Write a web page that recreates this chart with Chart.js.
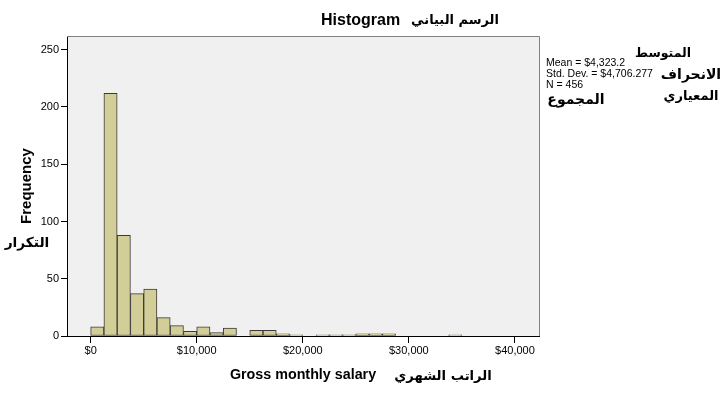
<!DOCTYPE html>
<html lang="en">
<head>
    <meta charset="UTF-8">
    <title>Histogram</title>
    <script src="https://cdn.jsdelivr.net/npm/chart.js"></script>
    <style>
        body { margin: 0; background: #fff; }
        #wrap { width: 720px; height: 396px; }
    </style>
</head>
<body>
    <div id="wrap">
        <canvas id="histChart" width="720" height="396"></canvas>
    </div>

    <script>
        // bin lower edges ($), bin width 1250
        var binStarts = [0, 1250, 2500, 3750, 5000, 6250, 7500, 8750, 10000, 11250, 12500, 13750,
                         15000, 16250, 17500, 18750, 20000, 21250, 22500, 23750, 25000, 26250,
                         27500, 28750, 30000, 31250, 32500, 33750];
        var binWidth = 1250;
        var counts = [8, 212, 88, 37, 41, 16, 9, 4, 8, 3, 7, 0,
                      5, 5, 2, 1, 0, 1, 1, 1, 2, 2,
                      2, 0, 0, 0, 0, 1];
        var xTicks = [0, 10000, 20000, 30000, 40000];
        var yTicks = [0, 50, 100, 150, 200, 250];
        var statsLines = ['Mean = $4,323.2', 'Std. Dev. = $4,706.277', 'N = 456'];

        var FONT = '"Liberation Sans", Arial, sans-serif';
        var AR_FONT = '"DejaVu Sans", sans-serif';

        // arabic captions: text, center x, center y, size
        var arabicLabels = [
            ['الرسم البياني', 455, 21, 13],
            ['المتوسط', 663, 54, 12.5],
            ['الانحراف', 691, 75, 14],
            ['المعياري', 691, 97, 13],
            ['المجموع', 576, 100, 14],
            ['التكرار', 27, 243, 13.75],
            ['الراتب الشهري', 443, 377, 13.2]
        ];

        var extras = {
            id: 'extras',
            beforeDraw: function(chart) {
                var ctx = chart.ctx, a = chart.chartArea;
                ctx.save();
                ctx.fillStyle = '#F0F0F0';
                ctx.fillRect(a.left, a.top, a.right - a.left, a.bottom - a.top);
                ctx.restore();
            },
            afterDraw: function(chart) {
                var ctx = chart.ctx, a = chart.chartArea;
                ctx.save();
                // grey frame top / right
                ctx.strokeStyle = '#808080';
                ctx.lineWidth = 1;
                ctx.beginPath();
                ctx.moveTo(a.left, a.top + 0.5);
                ctx.lineTo(a.right + 0.5, a.top + 0.5);
                ctx.lineTo(a.right + 0.5, a.bottom);
                ctx.stroke();

                ctx.fillStyle = '#000';
                ctx.textBaseline = 'middle';
                ctx.textAlign = 'left';
                ctx.font = 'bold 16px ' + FONT;
                ctx.fillText('Histogram', 321, 21);

                ctx.font = '10.5px ' + FONT;
                statsLines.forEach(function(t, i) {
                    ctx.fillText(t, 546, 63 + i * 11);
                });

                ctx.direction = 'rtl';
                ctx.textAlign = 'center';
                arabicLabels.forEach(function(l) {
                    ctx.font = 'bold ' + l[3] + 'px ' + AR_FONT;
                    ctx.fillText(l[0], l[1], l[2]);
                });
                ctx.restore();
            }
        };

        var ctx = document.getElementById('histChart').getContext('2d');
        var histChart = new Chart(ctx, {
            type: 'bar',
            data: {
                datasets: [{
                    label: 'Frequency',
                    data: binStarts.map(function(s, i) { return { x: s + binWidth / 2, y: counts[i] }; }),
                    backgroundColor: '#D3CE97',
                    borderColor: '#3a3a3a',
                    borderWidth: 1,
                    borderSkipped: false,
                    barPercentage: 1,
                    categoryPercentage: 1
                }]
            },
            options: {
                responsive: false,
                animation: false,
                devicePixelRatio: 1,
                layout: { padding: { left: 0, right: 181, top: 36, bottom: 0 } },
                plugins: {
                    legend: { display: false },
                    tooltip: { enabled: false }
                },
                scales: {
                    x: {
                        type: 'linear',
                        position: 'bottom',
                        offset: false,
                        min: -2230,
                        max: 42270,
                        afterFit: function(s) { s.height = 60; },
                        afterBuildTicks: function(s) { s.ticks = xTicks.map(function(v) { return { value: v }; }); },
                        grid: { offset: false, drawOnChartArea: false, drawTicks: true, tickLength: 7, tickColor: '#000' },
                        border: { display: true, color: '#000', width: 1 },
                        ticks: {
                            color: '#000',
                            font: { family: FONT, size: 11 },
                            padding: 1,
                            maxRotation: 0,
                            autoSkip: false,
                            callback: function(v) { return '$' + v.toLocaleString('en-US'); }
                        },
                        title: {
                            display: true,
                            text: 'Gross monthly salary',
                            color: '#000',
                            font: { family: FONT, size: 14.3, weight: 'bold' },
                            padding: { top: 0, bottom: 12 }
                        }
                    },
                    y: {
                        type: 'linear',
                        min: 0,
                        max: 262,
                        afterFit: function(s) { s.width = 67; },
                        afterBuildTicks: function(s) { s.ticks = yTicks.map(function(v) { return { value: v }; }); },
                        grid: { drawOnChartArea: false, drawTicks: true, tickLength: 6, tickColor: '#000' },
                        border: { display: true, color: '#000', width: 1 },
                        ticks: {
                            color: '#000',
                            font: { family: FONT, size: 11 },
                            padding: 2
                        },
                        title: {
                            display: true,
                            text: 'Frequency',
                            color: '#000',
                            font: { family: FONT, size: 15, weight: 'bold' },
                            padding: { top: 18, bottom: 0 }
                        }
                    }
                }
            },
            plugins: [extras]
        });
    </script>
</body>
</html>
